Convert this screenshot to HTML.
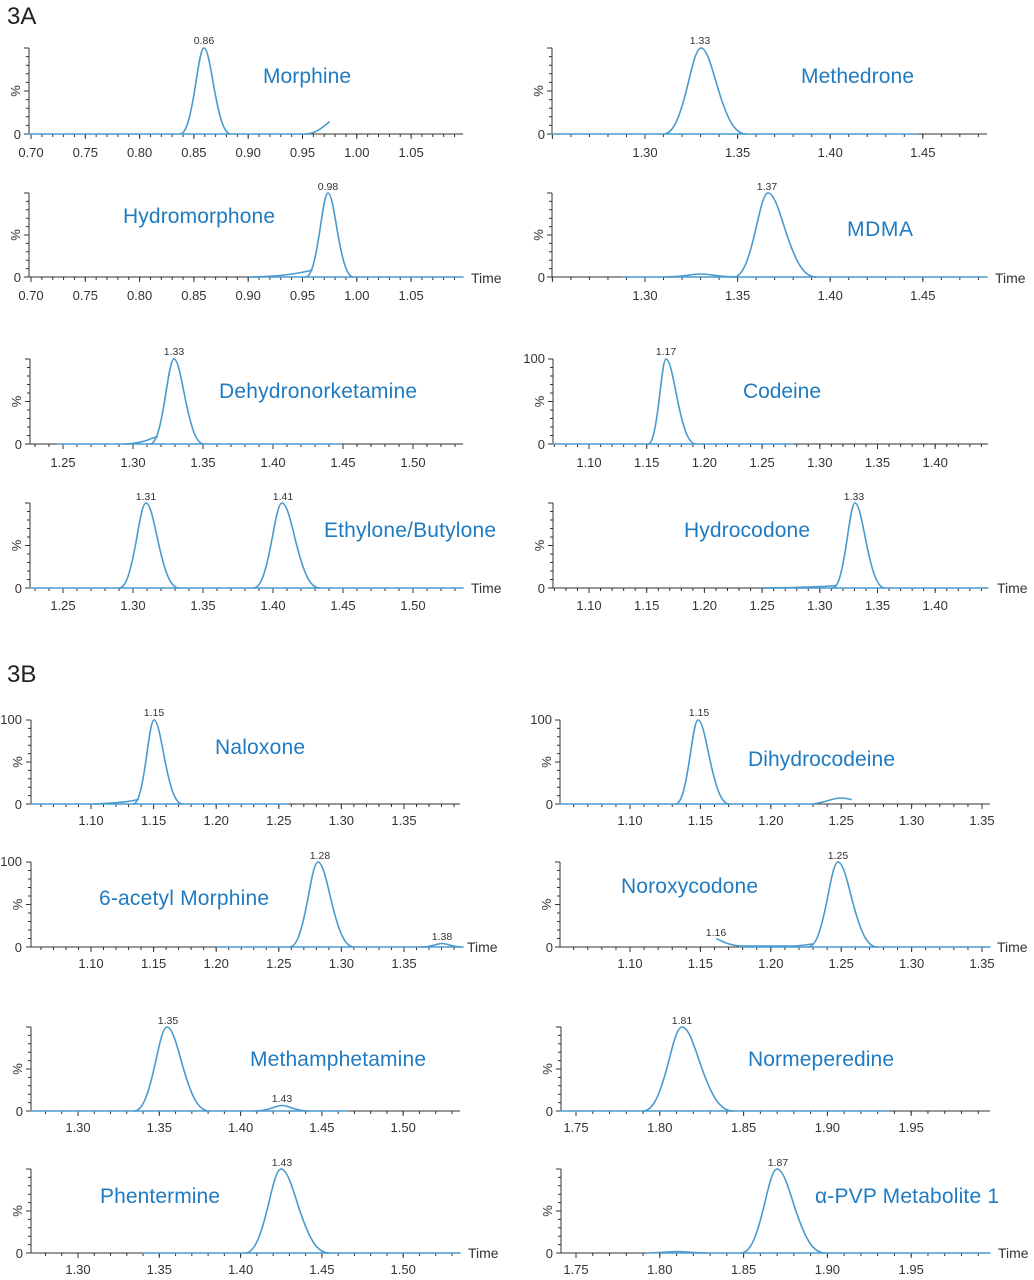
<!DOCTYPE html>
<html><head><meta charset="utf-8"><style>
html,body{margin:0;padding:0;background:#fff;}
svg{display:block;}
.ax{stroke:#333;stroke-width:1;fill:none;}
.tk{fill:#333;font-family:"Liberation Sans",Arial,sans-serif;font-size:13px;text-anchor:middle;}
.yl{fill:#333;font-family:"Liberation Sans",Arial,sans-serif;font-size:13px;text-anchor:end;}
.pl{fill:#333;font-family:"Liberation Sans",Arial,sans-serif;font-size:10.5px;text-anchor:middle;}
.tm{fill:#333;font-family:"Liberation Sans",Arial,sans-serif;font-size:14px;}
.nm{fill:#1f7bc1;font-family:"Liberation Sans",Arial,sans-serif;font-size:21px;}
.hd{fill:#222;font-family:"Liberation Sans",Arial,sans-serif;font-size:24px;}
.t{stroke:#4a9acd;stroke-width:1.6;fill:none;stroke-linejoin:round;stroke-linecap:round;}
</style></head><body>
<svg width="1034" height="1280" viewBox="0 0 1034 1280" xmlns="http://www.w3.org/2000/svg">
<rect width="1034" height="1280" fill="#fff"/>

<text class="hd" x="7" y="24">3A</text>
<text class="hd" x="7" y="682">3B</text>

<!-- ================= P1 Morphine ================= -->
<g class="ax">
<path d="M29 48V134H463"/>
<line x1="27.5" y1="47.5" x2="27.5" y2="134.5" stroke-width="3" stroke-dasharray="1 7.6"/>
<path d="M24 48H29M24 91H29M24 134H29"/>
<line x1="30.5" y1="135.5" x2="456" y2="135.5" stroke-width="3" stroke-dasharray="1 9.86"/>
<line x1="30.5" y1="136.5" x2="412.5" y2="136.5" stroke-width="5" stroke-dasharray="1 53.3"/>
</g>
<text class="tk" x="31" y="157">0.70</text><text class="tk" x="85.3" y="157">0.75</text><text class="tk" x="139.6" y="157">0.80</text><text class="tk" x="193.9" y="157">0.85</text><text class="tk" x="248.2" y="157">0.90</text><text class="tk" x="302.5" y="157">0.95</text><text class="tk" x="356.8" y="157">1.00</text><text class="tk" x="411.1" y="157">1.05</text>
<text class="yl" x="21" y="139">0</text>
<text class="tk" transform="translate(16 91) rotate(-90)" dy="4">%</text>
<path class="t" d="M29 134H310"/>
<path class="t" d="M306 134C314 133.5 320 130 329 122"/>
<path class="t" vector-effect="non-scaling-stroke" transform="translate(204 134) scale(8 -86)" d="M-3 0C-2.26 0-1.74 .158-1 .607C-.65 .8195-.35 1 0 1"/>
<path class="t" vector-effect="non-scaling-stroke" transform="translate(204 134) scale(9 -86)" d="M0 1C.35 1 .65 .8195 1 .607C1.74 .158 2.26 0 3 0"/>
<text class="pl" x="204" y="44">0.86</text>
<text class="nm" x="263" y="83" textLength="88">Morphine</text>

<!-- ================= P2 Hydromorphone ================= -->
<g class="ax">
<path d="M29 193V277H463"/>
<line x1="27.5" y1="192.5" x2="27.5" y2="277.5" stroke-width="3" stroke-dasharray="1 7.4"/>
<path d="M24 193H29M24 235H29M24 277H29"/>
<line x1="30.5" y1="278.5" x2="456" y2="278.5" stroke-width="3" stroke-dasharray="1 9.86"/>
<line x1="30.5" y1="279.5" x2="412.5" y2="279.5" stroke-width="5" stroke-dasharray="1 53.3"/>
</g>
<text class="tk" x="31" y="300">0.70</text><text class="tk" x="85.3" y="300">0.75</text><text class="tk" x="139.6" y="300">0.80</text><text class="tk" x="193.9" y="300">0.85</text><text class="tk" x="248.2" y="300">0.90</text><text class="tk" x="302.5" y="300">0.95</text><text class="tk" x="356.8" y="300">1.00</text><text class="tk" x="411.1" y="300">1.05</text>
<text class="yl" x="21" y="282">0</text>
<text class="tk" transform="translate(16 235) rotate(-90)" dy="4">%</text>
<text class="tm" x="471" y="283">Time</text>
<path class="t" d="M250 277H463"/>
<path class="t" d="M250 277C275 276.5 295 274 306 271.5C309 271 311 270.5 312 270"/>
<path class="t" vector-effect="non-scaling-stroke" transform="translate(328 277) scale(7.5 -84)" d="M-3 0C-2.26 0-1.74 .158-1 .607C-.65 .8195-.35 1 0 1"/>
<path class="t" vector-effect="non-scaling-stroke" transform="translate(328 277) scale(8.5 -84)" d="M0 1C.35 1 .65 .8195 1 .607C1.74 .158 2.26 0 3 0"/>
<text class="pl" x="328" y="190">0.98</text>
<text class="nm" x="123" y="223" textLength="152">Hydromorphone</text>

<!-- ================= P3 Methedrone ================= -->
<g class="ax">
<path d="M552 48V134H987"/>
<line x1="550.5" y1="47.5" x2="550.5" y2="134.5" stroke-width="3" stroke-dasharray="1 7.6"/>
<path d="M547 48H552M547 91H552M547 134H552"/>
<line x1="551.9" y1="135.5" x2="980" y2="135.5" stroke-width="3" stroke-dasharray="1 17.52"/>
<line x1="551.9" y1="136.5" x2="924" y2="136.5" stroke-width="5" stroke-dasharray="1 91.6"/>
</g>
<text class="tk" x="645" y="157">1.30</text><text class="tk" x="737.6" y="157">1.35</text><text class="tk" x="830.2" y="157">1.40</text><text class="tk" x="922.8" y="157">1.45</text>
<text class="yl" x="545" y="139">0</text>
<text class="tk" transform="translate(539 91) rotate(-90)" dy="4">%</text>
<path class="t" d="M552 134H917"/>
<path class="t" vector-effect="non-scaling-stroke" transform="translate(701 134) scale(12.5 -86)" d="M-3 0C-2.26 0-1.74 .158-1 .607C-.65 .8195-.35 1 0 1"/>
<path class="t" vector-effect="non-scaling-stroke" transform="translate(701 134) scale(15 -86)" d="M0 1C.35 1 .65 .8195 1 .607C1.74 .158 2.26 0 3 0"/>
<text class="pl" x="700" y="44">1.33</text>
<text class="nm" x="801" y="83" textLength="113">Methedrone</text>

<!-- ================= P4 MDMA ================= -->
<g class="ax">
<path d="M552 193V277H987"/>
<line x1="550.5" y1="192.5" x2="550.5" y2="277.5" stroke-width="3" stroke-dasharray="1 7.4"/>
<path d="M547 193H552M547 235H552M547 277H552"/>
<line x1="551.9" y1="278.5" x2="980" y2="278.5" stroke-width="3" stroke-dasharray="1 17.52"/>
<line x1="551.9" y1="279.5" x2="924" y2="279.5" stroke-width="5" stroke-dasharray="1 91.6"/>
</g>
<text class="tk" x="645" y="300">1.30</text><text class="tk" x="737.6" y="300">1.35</text><text class="tk" x="830.2" y="300">1.40</text><text class="tk" x="922.8" y="300">1.45</text>
<text class="yl" x="545" y="282">0</text>
<text class="tk" transform="translate(539 235) rotate(-90)" dy="4">%</text>
<text class="tm" x="995" y="283">Time</text>
<path class="t" d="M623 277H987"/>
<path class="t" vector-effect="non-scaling-stroke" transform="translate(701 277) scale(12 -3)" d="M-3 0C-2.26 0-1.74 .158-1 .607C-.65 .8195-.35 1 0 1C.35 1 .65 .8195 1 .607C1.74 .158 2.26 0 3 0"/>
<path class="t" vector-effect="non-scaling-stroke" transform="translate(768 277) scale(11.5 -84)" d="M-3 0C-2.26 0-1.74 .158-1 .607C-.65 .8195-.35 1 0 1"/>
<path class="t" vector-effect="non-scaling-stroke" transform="translate(768 277) scale(16 -84)" d="M0 1C.35 1 .65 .8195 1 .607C1.74 .158 2.26 0 3 0"/>
<text class="pl" x="767" y="190">1.37</text>
<text class="nm" x="847" y="236" textLength="66">MDMA</text>

<!-- ================= P5 Dehydronorketamine ================= -->
<g class="ax">
<path d="M30 359V444H463"/>
<line x1="28.5" y1="358.5" x2="28.5" y2="444.5" stroke-width="3" stroke-dasharray="1 7.5"/>
<path d="M25 359H30M25 401.5H30M25 444H30"/>
<line x1="34.5" y1="445.5" x2="456" y2="445.5" stroke-width="3" stroke-dasharray="1 13"/>
<line x1="62.5" y1="446.5" x2="414" y2="446.5" stroke-width="5" stroke-dasharray="1 69"/>
</g>
<text class="tk" x="63" y="467">1.25</text><text class="tk" x="133" y="467">1.30</text><text class="tk" x="203" y="467">1.35</text><text class="tk" x="273" y="467">1.40</text><text class="tk" x="343" y="467">1.45</text><text class="tk" x="413" y="467">1.50</text>
<text class="yl" x="22" y="449">0</text>
<text class="tk" transform="translate(17 401.5) rotate(-90)" dy="4">%</text>
<path class="t" d="M58 444H340"/>
<path class="t" d="M125 444C137 443.5 146 441 150 439C152 438 154 437.5 157 437"/>
<path class="t" vector-effect="non-scaling-stroke" transform="translate(174 444) scale(8 -85)" d="M-3 0C-2.26 0-1.74 .158-1 .607C-.65 .8195-.35 1 0 1"/>
<path class="t" vector-effect="non-scaling-stroke" transform="translate(174 444) scale(10 -85)" d="M0 1C.35 1 .65 .8195 1 .607C1.74 .158 2.26 0 3 0"/>
<text class="pl" x="174" y="355">1.33</text>
<text class="nm" x="219" y="398" textLength="198">Dehydronorketamine</text>

<!-- ================= P6 Ethylone/Butylone ================= -->
<g class="ax">
<path d="M30 503V588H463"/>
<line x1="28.5" y1="502.5" x2="28.5" y2="588.5" stroke-width="3" stroke-dasharray="1 7.5"/>
<path d="M25 503H30M25 545.5H30M25 588H30"/>
<line x1="34.5" y1="589.5" x2="456" y2="589.5" stroke-width="3" stroke-dasharray="1 13"/>
<line x1="62.5" y1="590.5" x2="414" y2="590.5" stroke-width="5" stroke-dasharray="1 69"/>
</g>
<text class="tk" x="63" y="610">1.25</text><text class="tk" x="133" y="610">1.30</text><text class="tk" x="203" y="610">1.35</text><text class="tk" x="273" y="610">1.40</text><text class="tk" x="343" y="610">1.45</text><text class="tk" x="413" y="610">1.50</text>
<text class="yl" x="22" y="593">0</text>
<text class="tk" transform="translate(17 545.5) rotate(-90)" dy="4">%</text>
<text class="tm" x="471" y="593">Time</text>
<path class="t" d="M30 588H463"/>
<path class="t" vector-effect="non-scaling-stroke" transform="translate(146 588) scale(9 -85)" d="M-3 0C-2.26 0-1.74 .158-1 .607C-.65 .8195-.35 1 0 1"/>
<path class="t" vector-effect="non-scaling-stroke" transform="translate(146 588) scale(11 -85)" d="M0 1C.35 1 .65 .8195 1 .607C1.74 .158 2.26 0 3 0"/>
<path class="t" vector-effect="non-scaling-stroke" transform="translate(282 588) scale(9.5 -85)" d="M-3 0C-2.26 0-1.74 .158-1 .607C-.65 .8195-.35 1 0 1"/>
<path class="t" vector-effect="non-scaling-stroke" transform="translate(282 588) scale(12.5 -85)" d="M0 1C.35 1 .65 .8195 1 .607C1.74 .158 2.26 0 3 0"/>
<text class="pl" x="146" y="500">1.31</text>
<text class="pl" x="283" y="500">1.41</text>
<text class="nm" x="324" y="537" textLength="172">Ethylone/Butylone</text>

<!-- ================= P7 Codeine ================= -->
<g class="ax">
<path d="M553 359V444H988"/>
<line x1="551.5" y1="358.5" x2="551.5" y2="444.5" stroke-width="3" stroke-dasharray="1 7.5"/>
<path d="M548 359H553M548 401.5H553M548 444H553"/>
<line x1="553.9" y1="445.5" x2="983" y2="445.5" stroke-width="3" stroke-dasharray="1 10.54"/>
<line x1="588.5" y1="446.5" x2="936.5" y2="446.5" stroke-width="5" stroke-dasharray="1 56.7"/>
</g>
<text class="tk" x="589" y="467">1.10</text><text class="tk" x="646.7" y="467">1.15</text><text class="tk" x="704.4" y="467">1.20</text><text class="tk" x="762.1" y="467">1.25</text><text class="tk" x="819.8" y="467">1.30</text><text class="tk" x="877.5" y="467">1.35</text><text class="tk" x="935.2" y="467">1.40</text>
<text class="yl" x="545" y="363">100</text>
<text class="yl" x="545" y="449">0</text>
<text class="tk" transform="translate(540 401.5) rotate(-90)" dy="4">%</text>
<path class="t" d="M553 444H793"/>
<path class="t" vector-effect="non-scaling-stroke" transform="translate(666 444) scale(6 -85)" d="M-3 0C-2.26 0-1.74 .158-1 .607C-.65 .8195-.35 1 0 1"/>
<path class="t" vector-effect="non-scaling-stroke" transform="translate(666 444) scale(10 -85)" d="M0 1C.35 1 .65 .8195 1 .607C1.74 .158 2.26 0 3 0"/>
<text class="pl" x="666" y="355">1.17</text>
<text class="nm" x="743" y="398" textLength="78">Codeine</text>

<!-- ================= P8 Hydrocodone ================= -->
<g class="ax">
<path d="M553 503V588H988"/>
<line x1="551.5" y1="502.5" x2="551.5" y2="588.5" stroke-width="3" stroke-dasharray="1 7.5"/>
<path d="M548 503H553M548 545.5H553M548 588H553"/>
<line x1="553.9" y1="589.5" x2="983" y2="589.5" stroke-width="3" stroke-dasharray="1 10.54"/>
<line x1="588.5" y1="590.5" x2="936.5" y2="590.5" stroke-width="5" stroke-dasharray="1 56.7"/>
</g>
<text class="tk" x="589" y="610">1.10</text><text class="tk" x="646.7" y="610">1.15</text><text class="tk" x="704.4" y="610">1.20</text><text class="tk" x="762.1" y="610">1.25</text><text class="tk" x="819.8" y="610">1.30</text><text class="tk" x="877.5" y="610">1.35</text><text class="tk" x="935.2" y="610">1.40</text>
<text class="yl" x="545" y="593">0</text>
<text class="tk" transform="translate(540 545.5) rotate(-90)" dy="4">%</text>
<text class="tm" x="997" y="593">Time</text>
<path class="t" d="M763 588H988"/>
<path class="t" d="M763 588C800 587.5 820 587 836 585.5"/>
<path class="t" vector-effect="non-scaling-stroke" transform="translate(855 588) scale(7.5 -85)" d="M-3 0C-2.26 0-1.74 .158-1 .607C-.65 .8195-.35 1 0 1"/>
<path class="t" vector-effect="non-scaling-stroke" transform="translate(855 588) scale(10 -85)" d="M0 1C.35 1 .65 .8195 1 .607C1.74 .158 2.26 0 3 0"/>
<text class="pl" x="854" y="500">1.33</text>
<text class="nm" x="684" y="537" textLength="126">Hydrocodone</text>

<!-- ================= P9 Naloxone ================= -->
<g class="ax">
<path d="M31 720V804H460"/>
<line x1="29.5" y1="719.5" x2="29.5" y2="804.5" stroke-width="3" stroke-dasharray="1 7.4"/>
<path d="M26 720H31M26 762H31M26 804H31"/>
<line x1="40.4" y1="805.5" x2="455.5" y2="805.5" stroke-width="3" stroke-dasharray="1 11.52"/>
<line x1="90.5" y1="806.5" x2="405.5" y2="806.5" stroke-width="5" stroke-dasharray="1 61.6"/>
</g>
<text class="tk" x="91" y="825">1.10</text><text class="tk" x="153.6" y="825">1.15</text><text class="tk" x="216.2" y="825">1.20</text><text class="tk" x="278.8" y="825">1.25</text><text class="tk" x="341.4" y="825">1.30</text><text class="tk" x="404" y="825">1.35</text>
<text class="yl" x="22" y="724">100</text>
<text class="yl" x="22" y="809">0</text>
<text class="tk" transform="translate(18 762) rotate(-90)" dy="4">%</text>
<path class="t" d="M31 804H287"/>
<path class="t" d="M95 804C115 803 125 802 131 801C134 800.5 136 800 138 799.5"/>
<path class="t" vector-effect="non-scaling-stroke" transform="translate(154 804) scale(7 -84)" d="M-3 0C-2.26 0-1.74 .158-1 .607C-.65 .8195-.35 1 0 1"/>
<path class="t" vector-effect="non-scaling-stroke" transform="translate(154 804) scale(9.5 -84)" d="M0 1C.35 1 .65 .8195 1 .607C1.74 .158 2.26 0 3 0"/>
<text class="pl" x="154" y="716">1.15</text>
<text class="nm" x="215" y="754" textLength="90">Naloxone</text>

<!-- ================= P10 6-acetyl Morphine ================= -->
<g class="ax">
<path d="M31 862V947H460"/>
<line x1="29.5" y1="861.5" x2="29.5" y2="947.5" stroke-width="3" stroke-dasharray="1 7.5"/>
<path d="M26 862H31M26 904.5H31M26 947H31"/>
<line x1="40.4" y1="948.5" x2="455.5" y2="948.5" stroke-width="3" stroke-dasharray="1 11.52"/>
<line x1="90.5" y1="949.5" x2="405.5" y2="949.5" stroke-width="5" stroke-dasharray="1 61.6"/>
</g>
<text class="tk" x="91" y="968">1.10</text><text class="tk" x="153.6" y="968">1.15</text><text class="tk" x="216.2" y="968">1.20</text><text class="tk" x="278.8" y="968">1.25</text><text class="tk" x="341.4" y="968">1.30</text><text class="tk" x="404" y="968">1.35</text>
<text class="yl" x="22" y="866">100</text>
<text class="yl" x="22" y="952">0</text>
<text class="tk" transform="translate(18 904.5) rotate(-90)" dy="4">%</text>
<text class="tm" x="467" y="952">Time</text>
<path class="t" d="M217 947H460"/>
<path class="t" vector-effect="non-scaling-stroke" transform="translate(318 947) scale(9.5 -85)" d="M-3 0C-2.26 0-1.74 .158-1 .607C-.65 .8195-.35 1 0 1"/>
<path class="t" vector-effect="non-scaling-stroke" transform="translate(318 947) scale(12 -85)" d="M0 1C.35 1 .65 .8195 1 .607C1.74 .158 2.26 0 3 0"/>
<path class="t" vector-effect="non-scaling-stroke" transform="translate(442 947) scale(7 -3.5)" d="M-3 0C-2.26 0-1.74 .158-1 .607C-.65 .8195-.35 1 0 1C.35 1 .65 .8195 1 .607C1.74 .158 2.26 0 3 0"/>
<text class="pl" x="320" y="859">1.28</text>
<text class="pl" x="442" y="940">1.38</text>
<text class="nm" x="99" y="905" textLength="170">6-acetyl Morphine</text>

<!-- ================= P11 Dihydrocodeine ================= -->
<g class="ax">
<path d="M560 720V804H990"/>
<line x1="558.5" y1="719.5" x2="558.5" y2="804.5" stroke-width="3" stroke-dasharray="1 7.4"/>
<path d="M555 720H560M555 762H560M555 804H560"/>
<line x1="573.2" y1="805.5" x2="983.5" y2="805.5" stroke-width="3" stroke-dasharray="1 13.08"/>
<line x1="629.5" y1="806.5" x2="983.5" y2="806.5" stroke-width="5" stroke-dasharray="1 69.4"/>
</g>
<text class="tk" x="630" y="825">1.10</text><text class="tk" x="700.4" y="825">1.15</text><text class="tk" x="770.8" y="825">1.20</text><text class="tk" x="841.2" y="825">1.25</text><text class="tk" x="911.6" y="825">1.30</text><text class="tk" x="982" y="825">1.35</text>
<text class="yl" x="552" y="724">100</text>
<text class="yl" x="553" y="809">0</text>
<text class="tk" transform="translate(547 762) rotate(-90)" dy="4">%</text>
<path class="t" d="M560 804H815"/>
<path class="t" d="M812 804C825 803 832 798 841 798C846 798 849 799 851 799.5"/>
<path class="t" vector-effect="non-scaling-stroke" transform="translate(698 804) scale(7.5 -84)" d="M-3 0C-2.26 0-1.74 .158-1 .607C-.65 .8195-.35 1 0 1"/>
<path class="t" vector-effect="non-scaling-stroke" transform="translate(698 804) scale(10.5 -84)" d="M0 1C.35 1 .65 .8195 1 .607C1.74 .158 2.26 0 3 0"/>
<text class="pl" x="699" y="716">1.15</text>
<text class="nm" x="748" y="766" textLength="147">Dihydrocodeine</text>

<!-- ================= P12 Noroxycodone ================= -->
<g class="ax">
<path d="M560 862V947H990"/>
<line x1="558.5" y1="861.5" x2="558.5" y2="947.5" stroke-width="3" stroke-dasharray="1 7.5"/>
<path d="M555 862H560M555 904.5H560M555 947H560"/>
<line x1="573.2" y1="948.5" x2="983.5" y2="948.5" stroke-width="3" stroke-dasharray="1 13.08"/>
<line x1="629.5" y1="949.5" x2="983.5" y2="949.5" stroke-width="5" stroke-dasharray="1 69.4"/>
</g>
<text class="tk" x="630" y="968">1.10</text><text class="tk" x="700.4" y="968">1.15</text><text class="tk" x="770.8" y="968">1.20</text><text class="tk" x="841.2" y="968">1.25</text><text class="tk" x="911.6" y="968">1.30</text><text class="tk" x="982" y="968">1.35</text>
<text class="yl" x="553" y="952">0</text>
<text class="tk" transform="translate(547 904.5) rotate(-90)" dy="4">%</text>
<text class="tm" x="997" y="952">Time</text>
<path class="t" d="M740 947H990"/>
<path class="t" d="M717 939C722 941 728 945 740 946L790 946C800 946 806 945 812 944"/>
<path class="t" vector-effect="non-scaling-stroke" transform="translate(838 947) scale(10 -85)" d="M-3 0C-2.26 0-1.74 .158-1 .607C-.65 .8195-.35 1 0 1"/>
<path class="t" vector-effect="non-scaling-stroke" transform="translate(838 947) scale(13 -85)" d="M0 1C.35 1 .65 .8195 1 .607C1.74 .158 2.26 0 3 0"/>
<text class="pl" x="838" y="859">1.25</text>
<text class="pl" x="716" y="936">1.16</text>
<text class="nm" x="621" y="893" textLength="137">Noroxycodone</text>

<!-- ================= P13 Methamphetamine ================= -->
<g class="ax">
<path d="M31 1027V1111H460"/>
<line x1="29.5" y1="1026.5" x2="29.5" y2="1111.5" stroke-width="3" stroke-dasharray="1 7.4"/>
<path d="M26 1027H31M26 1069H31M26 1111H31"/>
<line x1="45" y1="1112.5" x2="453.5" y2="1112.5" stroke-width="3" stroke-dasharray="1 15.26"/>
<line x1="77.5" y1="1113.5" x2="404.5" y2="1113.5" stroke-width="5" stroke-dasharray="1 80.3"/>
</g>
<text class="tk" x="78" y="1132">1.30</text><text class="tk" x="159.3" y="1132">1.35</text><text class="tk" x="240.6" y="1132">1.40</text><text class="tk" x="321.9" y="1132">1.45</text><text class="tk" x="403.2" y="1132">1.50</text>
<text class="yl" x="23" y="1116">0</text>
<text class="tk" transform="translate(18 1069) rotate(-90)" dy="4">%</text>
<path class="t" d="M31 1111H347"/>
<path class="t" vector-effect="non-scaling-stroke" transform="translate(167 1111) scale(11 -84)" d="M-3 0C-2.26 0-1.74 .158-1 .607C-.65 .8195-.35 1 0 1"/>
<path class="t" vector-effect="non-scaling-stroke" transform="translate(167 1111) scale(14 -84)" d="M0 1C.35 1 .65 .8195 1 .607C1.74 .158 2.26 0 3 0"/>
<path class="t" vector-effect="non-scaling-stroke" transform="translate(282 1111) scale(9 -5.5)" d="M-3 0C-2.26 0-1.74 .158-1 .607C-.65 .8195-.35 1 0 1C.35 1 .65 .8195 1 .607C1.74 .158 2.26 0 3 0"/>
<text class="pl" x="168" y="1024">1.35</text>
<text class="pl" x="282" y="1102">1.43</text>
<text class="nm" x="250" y="1066" textLength="176">Methamphetamine</text>

<!-- ================= P14 Phentermine ================= -->
<g class="ax">
<path d="M31 1169V1253H460"/>
<line x1="29.5" y1="1168.5" x2="29.5" y2="1253.5" stroke-width="3" stroke-dasharray="1 7.4"/>
<path d="M26 1169H31M26 1211H31M26 1253H31"/>
<line x1="45" y1="1254.5" x2="453.5" y2="1254.5" stroke-width="3" stroke-dasharray="1 15.26"/>
<line x1="77.5" y1="1255.5" x2="404.5" y2="1255.5" stroke-width="5" stroke-dasharray="1 80.3"/>
</g>
<text class="tk" x="78" y="1274">1.30</text><text class="tk" x="159.3" y="1274">1.35</text><text class="tk" x="240.6" y="1274">1.40</text><text class="tk" x="321.9" y="1274">1.45</text><text class="tk" x="403.2" y="1274">1.50</text>
<text class="yl" x="23" y="1258">0</text>
<text class="tk" transform="translate(18 1211) rotate(-90)" dy="4">%</text>
<text class="tm" x="468" y="1258">Time</text>
<path class="t" d="M143 1253H460"/>
<path class="t" vector-effect="non-scaling-stroke" transform="translate(281 1253) scale(12 -84)" d="M-3 0C-2.26 0-1.74 .158-1 .607C-.65 .8195-.35 1 0 1"/>
<path class="t" vector-effect="non-scaling-stroke" transform="translate(281 1253) scale(16 -84)" d="M0 1C.35 1 .65 .8195 1 .607C1.74 .158 2.26 0 3 0"/>
<text class="pl" x="282" y="1166">1.43</text>
<text class="nm" x="100" y="1203" textLength="120">Phentermine</text>

<!-- ================= P15 Normeperedine ================= -->
<g class="ax">
<path d="M561 1027V1111H990"/>
<line x1="559.5" y1="1026.5" x2="559.5" y2="1111.5" stroke-width="3" stroke-dasharray="1 7.4"/>
<path d="M556 1027H561M556 1069H561M556 1111H561"/>
<line x1="575.5" y1="1112.5" x2="979.5" y2="1112.5" stroke-width="3" stroke-dasharray="1 15.76"/>
<line x1="575.5" y1="1113.5" x2="912.5" y2="1113.5" stroke-width="5" stroke-dasharray="1 82.8"/>
</g>
<text class="tk" x="576" y="1132">1.75</text><text class="tk" x="659.8" y="1132">1.80</text><text class="tk" x="743.6" y="1132">1.85</text><text class="tk" x="827.4" y="1132">1.90</text><text class="tk" x="911.2" y="1132">1.95</text>
<text class="yl" x="553" y="1116">0</text>
<text class="tk" transform="translate(548 1069) rotate(-90)" dy="4">%</text>
<path class="t" d="M561 1111H888"/>
<path class="t" vector-effect="non-scaling-stroke" transform="translate(682 1111) scale(13 -84)" d="M-3 0C-2.26 0-1.74 .158-1 .607C-.65 .8195-.35 1 0 1"/>
<path class="t" vector-effect="non-scaling-stroke" transform="translate(682 1111) scale(17 -84)" d="M0 1C.35 1 .65 .8195 1 .607C1.74 .158 2.26 0 3 0"/>
<text class="pl" x="682" y="1024">1.81</text>
<text class="nm" x="748" y="1066" textLength="146">Normeperedine</text>

<!-- ================= P16 alpha-PVP Metabolite 1 ================= -->
<g class="ax">
<path d="M561 1169V1253H990"/>
<line x1="559.5" y1="1168.5" x2="559.5" y2="1253.5" stroke-width="3" stroke-dasharray="1 7.4"/>
<path d="M556 1169H561M556 1211H561M556 1253H561"/>
<line x1="575.5" y1="1254.5" x2="979.5" y2="1254.5" stroke-width="3" stroke-dasharray="1 15.76"/>
<line x1="575.5" y1="1255.5" x2="912.5" y2="1255.5" stroke-width="5" stroke-dasharray="1 82.8"/>
</g>
<text class="tk" x="576" y="1274">1.75</text><text class="tk" x="659.8" y="1274">1.80</text><text class="tk" x="743.6" y="1274">1.85</text><text class="tk" x="827.4" y="1274">1.90</text><text class="tk" x="911.2" y="1274">1.95</text>
<text class="yl" x="553" y="1258">0</text>
<text class="tk" transform="translate(548 1211) rotate(-90)" dy="4">%</text>
<text class="tm" x="998" y="1258">Time</text>
<path class="t" d="M665 1253H990"/>
<path class="t" vector-effect="non-scaling-stroke" transform="translate(677 1253) scale(10 -1.5)" d="M-3 0C-2.26 0-1.74 .158-1 .607C-.65 .8195-.35 1 0 1C.35 1 .65 .8195 1 .607C1.74 .158 2.26 0 3 0"/>
<path class="t" vector-effect="non-scaling-stroke" transform="translate(777 1253) scale(12 -84)" d="M-3 0C-2.26 0-1.74 .158-1 .607C-.65 .8195-.35 1 0 1"/>
<path class="t" vector-effect="non-scaling-stroke" transform="translate(777 1253) scale(16 -84)" d="M0 1C.35 1 .65 .8195 1 .607C1.74 .158 2.26 0 3 0"/>
<text class="pl" x="778" y="1166">1.87</text>
<text class="nm" x="815" y="1203" textLength="184">α-PVP Metabolite 1</text>

</svg>
</body></html>
